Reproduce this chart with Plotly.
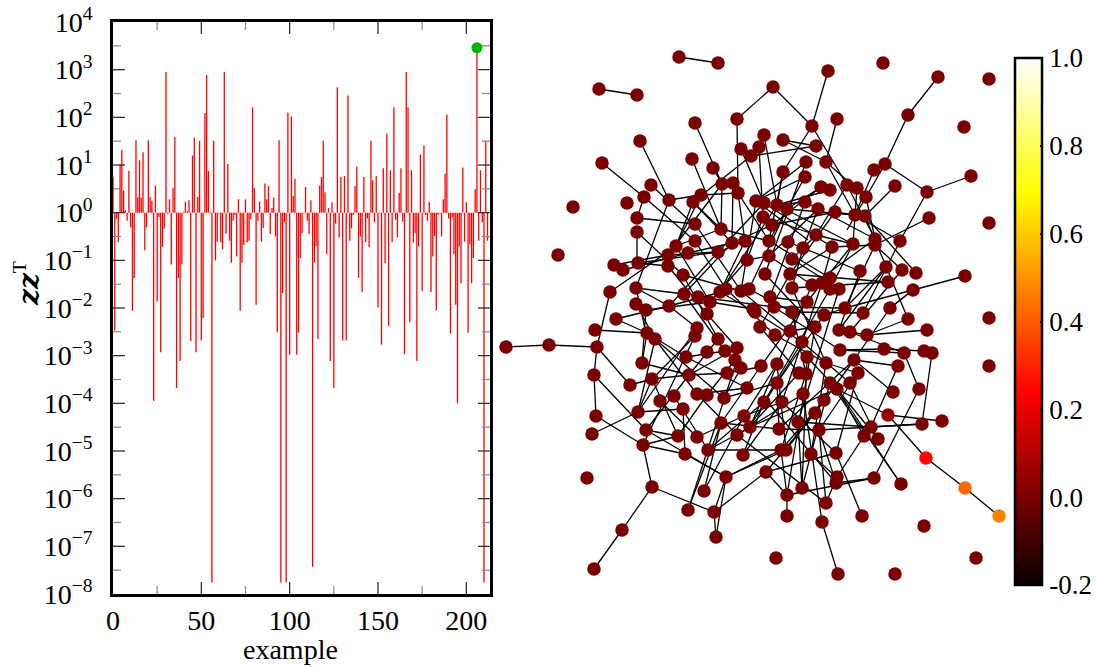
import plotly.graph_objects as go

FONT = "Liberation Serif"

z_log10 = [
 .75,-2.47,-.13,-.62,1.0,1.32,.47,.05,-.17,.88,-.31,-2.06,-1.37,1.52,.32,1.1,.32,1.27,-.79,-.31,
 1.52,.33,.25,-3.95,.57,-1.86,-.09,-2.93,-.72,-.33,2.95,-.03,.28,-1.09,.52,1.59,-3.68,-1.37,-3.11,-1.08,
 .02,.23,.03,.26,-2.69,1.2,1.57,-2.93,.33,1.51,-2.68,-2.21,2.09,2.89,.88,.02,-7.76,1.51,-1.0,-.61,
 -.02,-.62,-.77,2.95,-.44,1.02,-.59,-1.05,-.17,-.05,-.92,.28,-2.06,-1.05,-.68,.28,-.62,-.59,-.14,2.21,
 .52,-1.93,-.17,.23,-.61,-.32,.61,.28,.56,-.45,.1,.32,-.5,-2.51,1.52,-7.76,-1.69,-.2,-7.76,2.1,
 -2.98,2.02,.35,.71,-2.98,-2.52,-.95,-.43,-.02,.54,-.17,-.45,.26,-7.43,-1.05,-.7,-2.65,.57,.75,1.51,
 .43,-.87,.1,-3.11,.22,-3.68,-.23,2.63,-.52,.75,-2.68,.77,-2.68,2.46,-.59,-.33,-.05,.56,.97,-1.37,
 -.5,-1.67,.75,-.62,-.12,-.72,1.51,.68,-.2,.77,-1.99,-.02,-2.77,.93,-1.06,1.66,-2.38,.89,-.62,2.21,
 -.15,-.52,.41,.93,-.19,-2.97,2.95,2.21,-2.3,.89,-.63,-.43,-3.11,-.71,1.22,-1.65,1.41,-.05,-.17,.23,
 -1.67,-.92,-.49,-2.05,-.05,-.02,-.5,.28,.82,2.06,-.12,-2.54,-.1,-.87,-1.93,-4.0,-.71,-1.48,.95,-.61,
 .22,-2.52,-.66,-1.48,-.95,.49,3.46,-.59,.89,-.2,-7.76,1.51,-.59]
highlight_index = 206

y_tick_exponents = [4,3,2,1,0,-1,-2,-3,-4,-5,-6,-7,-8]
x_tick_vals = [0,50,100,150,200]
x_minor_vals = [25,75,125,175]
cbar_tick_vals = [-0.2,0,0.2,0.4,0.6,0.8,1.0]
cbar_tick_text = ["-0.2","0.0","0.2","0.4","0.6","0.8","1.0"]

nodes = [
(679,57),(718,63),(599,89),(637,95),(737,119),(695,123),(773,87),(764,135),(640,141),(741,149),(759,147),(751,156),
(602,163),(692,159),(713,168),(651,185),(722,184),(733,183),(738,193),(644,197),(701,195),(627,203),(669,200),(693,202),
(756,201),(764,203),(573,207),(637,218),(695,224),(763,217),(721,229),(637,232),(695,241),(676,246),(732,243),(745,241),
(769,241),(558,255),(688,253),(718,252),(668,255),(614,265),(623,270),(638,263),(668,266),(747,260),(769,256),(683,275),
(765,274),(636,288),(610,292),(684,294),(698,297),(720,292),(726,289),(741,291),(749,289),(710,302),(636,304),(669,306),
(646,310),(753,309),(770,297),(828,71),(883,63),(938,77),(989,79),(908,115),(812,126),(837,119),(964,127),(783,140),
(816,146),(806,162),(826,162),(885,164),(874,170),(783,172),(971,176),(805,177),(847,185),(857,188),(821,187),(830,190),
(895,186),(927,192),(866,197),(777,205),(787,209),(805,202),(818,209),(835,212),(855,215),(865,216),(929,218),(989,223),
(772,225),(816,235),(875,239),(875,245),(900,241),(788,242),(803,248),(832,247),(853,244),(792,259),(886,267),(902,270),
(916,273),(860,271),(790,274),(965,276),(830,278),(822,283),(812,285),(888,282),(913,290),(792,288),(830,289),(839,289),
(807,302),(774,307),(845,308),(755,312),(792,312),(824,315),(863,313),(890,308),(908,319),(989,318),(927,330),(760,327),
(775,335),(790,331),(815,327),(839,330),(850,332),(867,335),(802,342),(840,350),(884,349),(904,353),(924,351),(932,353),
(989,366),(807,357),(854,360),(761,366),(777,364),(826,363),(898,366),(799,373),(806,374),(858,373),(777,383),(830,383),
(850,383),(837,389),(893,392),(919,389),(803,394),(764,402),(782,402),(824,400),(815,413),(888,415),(798,422),(942,421),
(922,424),(779,429),(750,427),(819,430),(871,427),(864,436),(878,439),(926,458),(781,450),(786,450),(811,454),(836,453),
(766,472),(965,488),(999,516),(837,477),(836,483),(874,478),(901,484),(802,488),(787,495),(826,503),(787,516),(822,522),
(862,516),(924,526),(776,558),(976,558),(838,574),(895,574),(707,314),(616,319),(595,330),(697,328),(695,336),(647,333),
(655,339),(718,339),(597,347),(506,347),(549,345),(707,352),(725,351),(737,348),(686,357),(735,360),(741,368),(642,363),
(594,375),(689,375),(727,373),(652,379),(630,385),(747,388),(697,394),(707,395),(724,398),(674,396),(660,401),(683,409),
(638,412),(596,416),(721,423),(744,416),(646,430),(592,434),(678,436),(697,437),(737,435),(643,445),(708,450),(685,454),
(743,455),(726,477),(587,478),(652,487),(704,491),(688,510),(714,512),(622,530),(716,537),(594,569)]

special_values = {(888,415):0.05,(926,458):0.25,(965,488):0.42,(999,516):0.47}
default_value = 0.0

edges = [
(679,57,718,63),(599,89,637,95),(737,119,773,87),(737,119,738,193),(773,87,812,126),(828,71,812,126),(938,77,908,115),
(908,115,885,164),(885,164,927,192),(971,176,927,192),(927,192,900,241),(929,218,875,245),(895,186,865,216),(885,164,847,230),
(874,170,855,215),(837,119,826,162),(812,126,783,172),(812,126,847,185),(816,146,783,140),(816,146,751,156),(783,140,826,162),
(826,162,866,197),(764,135,777,205),(759,147,763,217),(741,149,764,203),(751,156,693,202),(695,123,722,184),(640,141,669,200),
(602,163,644,197),(692,159,721,229),(651,185,693,224),(644,197,695,241),(669,200,636,288),(644,197,637,218),(637,218,695,224),
(637,232,637,263),(637,232,683,275),(669,200,701,195),(701,195,738,193),(713,168,722,184),(676,246,693,202),(614,265,668,255),
(623,270,688,253),(638,263,718,252),(610,292,676,246),(636,288,684,294),(636,288,646,333),(597,347,549,345),(549,345,506,347),
(597,347,610,292),(595,330,647,333),(597,347,594,375),(594,375,596,416),(597,347,630,385),(630,385,652,379),(594,375,646,430),
(596,416,643,445),(592,434,638,412),(638,412,683,409),(643,445,685,454),(643,445,652,487),(652,487,622,530),(622,530,594,569),
(652,487,714,512),(714,512,716,537),(714,512,726,477),(714,512,766,472),(688,510,721,423),(704,491,721,423),(726,477,781,450),
(726,477,646,430),(685,454,726,477),(708,450,786,450),(647,333,642,363),(655,339,638,412),(646,430,689,375),(655,339,724,398),
(888,415,926,458),(926,458,965,488),(965,488,999,516),(888,415,942,421),(888,415,837,389),(922,424,819,430),(919,389,874,478),
(874,478,787,495),(932,353,922,424),(919,389,904,353),(898,366,871,427),(893,392,854,360),(927,330,867,335),(924,351,884,349),
(904,353,840,350),(901,484,837,389),(878,439,837,389),(864,436,837,477),(836,453,862,516),(836,453,858,373),(838,574,822,522),
(822,522,803,394),(826,503,837,477),(826,503,819,430),(787,516,787,495),(787,495,766,472),(787,495,781,450),(802,488,798,422),
(802,488,811,454),(836,483,766,400),(913,290,965,276),(913,290,845,308),(916,273,865,216),(888,282,792,288),(890,308,913,290),
(693,202,721,229),(693,202,732,243),(701,195,676,246),(722,184,668,255),(738,193,769,241),(738,193,745,241),(733,183,732,243),
(722,184,721,229),(756,201,741,291),(764,203,718,252),(763,217,747,260),(772,225,732,243),(777,205,720,292),(787,209,749,289),
(805,202,770,297),(805,177,769,241),(806,162,765,274),(783,172,777,205),(821,187,787,209),(830,190,777,205),(847,185,816,235),
(857,188,853,244),(866,197,875,239),(847,185,875,239),(855,215,900,241),(865,216,908,319),(835,212,772,225),(818,209,803,248),
(805,202,777,205),(816,235,853,244),(816,235,792,259),(832,247,875,245),(803,248,792,288),(788,242,860,271),(792,259,839,289),
(769,241,830,278),(769,256,812,285),(790,274,888,282),(886,267,845,308),(902,270,875,245),(860,271,839,330),(853,244,830,289),
(832,247,822,283),(875,239,812,285),(900,241,863,313),(913,290,890,308),(908,319,867,335),(890,308,854,360),(863,313,792,312),
(845,308,824,315),(839,330,867,335),(850,332,904,353),(840,350,884,349),(854,360,898,366),(826,363,858,373),(807,357,837,389),
(802,342,850,383),(790,331,815,327),(775,335,826,363),(760,327,799,373),(755,312,802,342),(774,307,840,350),(792,312,806,374),
(824,315,777,383),(839,289,798,422),(830,289,764,402),(822,283,782,402),(812,285,750,427),(807,302,761,366),(792,288,826,363),
(774,307,845,308),(770,297,807,302),(765,274,815,327),(790,274,760,327),(749,289,792,312),(741,291,790,331),(726,289,775,335),
(720,292,755,312),(710,302,753,309),(698,297,774,307),(684,294,725,351),(683,275,718,339),(668,266,707,314),(636,304,655,339),
(646,310,642,363),(669,306,616,319),(669,306,721,292),(707,314,737,348),(697,328,669,306),(695,336,652,379),(718,339,689,375),
(725,351,686,357),(737,348,689,375),(735,360,707,395),(741,368,724,398),(760,367,727,373),(761,366,721,423),(777,364,744,416),
(777,383,724,398),(747,388,697,394),(764,402,708,450),(782,402,743,455),(803,394,737,435),(799,373,750,427),(806,374,781,450),
(824,400,786,450),(815,413,766,472),(819,430,779,429),(798,422,871,427),(779,429,854,360),(750,427,850,383),(811,454,830,383),
(781,450,824,400),(786,450,777,364),(743,455,764,402),(737,435,826,503),(721,423,779,429),(707,395,678,436),(697,394,737,435),
(674,396,708,450),(660,401,697,437),(683,409,685,454),(678,436,652,379),(652,379,689,375),(642,363,689,375),(689,375,727,373),
(686,357,747,388),(697,437,744,416),(708,450,749,428),(749,428,802,342),(744,416,782,402),(782,402,836,453),(819,430,836,483),
(836,483,874,478),(864,436,871,427),(871,427,922,424),(811,454,836,477),(766,472,836,453),(830,383,901,484),(850,383,878,439),
(837,389,864,436),(858,373,819,430),(854,360,815,413),(826,363,811,454),(807,357,802,488),(815,327,787,495),(777,383,779,429),
(668,255,718,252),(668,266,638,263),(688,253,732,243),(718,252,745,241),(747,260,769,256),(732,243,684,294),(721,229,676,246),
(721,229,769,241),(695,224,741,291),(695,241,726,289),(676,246,710,302),(683,275,741,291),(718,252,669,306),(747,260,710,302),
(745,241,720,292),(756,201,808,240),(764,203,832,247),(777,205,853,244),(787,209,855,215),(805,202,875,239),(821,187,772,225),
(805,177,756,201),(806,162,756,201),(783,172,769,241),(847,185,866,197),(826,162,855,215),(816,235,763,217),(818,209,769,256),
(835,212,855,215),(835,212,790,274),(832,247,790,274),(853,244,807,302),(886,267,839,330),(902,270,850,332),(875,245,845,308),
(636,288,669,306),(646,310,710,302),(616,319,647,333),(647,333,686,357),(655,339,697,394),(652,379,638,412),(638,412,697,328),
(646,430,678,436),(678,436,643,445),(643,445,695,336),(688,510,737,360),(704,491,744,416),(716,537,726,477),(726,477,786,450),
]

node_x = [p[0] for p in nodes]
node_y = [p[1] for p in nodes]
node_value = [special_values.get(p, default_value) for p in nodes]

hot = [[0,"#0a0000"],[0.365,"#ff0000"],[0.746,"#ffff00"],[1,"#ffffff"]]

fig = go.Figure()

sx, sy = [], []
for i, e in enumerate(z_log10):
    sx += [i, i, None]
    sy += [1, 10 ** e, None]
fig.add_trace(go.Scatter(x=sx, y=sy, mode="lines", line=dict(color="#ff0000", width=1.3),
                         cliponaxis=False, showlegend=False, hoverinfo="skip", connectgaps=False))
fig.add_trace(go.Scatter(x=[highlight_index], y=[10 ** z_log10[highlight_index]], mode="markers",
                         marker=dict(color="#00b400", size=11), cliponaxis=False, showlegend=False))

ex, ey = [], []
for x1, y1, x2, y2 in edges:
    ex += [x1, x2, None]
    ey += [y1, y2, None]
fig.add_trace(go.Scatter(x=ex, y=ey, xaxis="x2", yaxis="y2", mode="lines",
                         line=dict(color="black", width=1.3), showlegend=False, hoverinfo="skip"))
fig.add_trace(go.Scatter(x=node_x, y=node_y, xaxis="x2", yaxis="y2", mode="markers", showlegend=False,
    marker=dict(size=13.5, color=node_value, cmin=-0.2, cmax=1.0, colorscale=hot,
                colorbar=dict(x=1015/1096, xanchor="left", xref="paper", y=1-58/667, yanchor="top", yref="paper",
                              len=527/667, lenmode="fraction", thickness=27, thicknessmode="pixels",
                              outlinewidth=2.5, outlinecolor="black", xpad=0, ypad=0,
                              tickmode="array", tickvals=cbar_tick_vals, ticktext=cbar_tick_text,
                              ticks="inside", ticklen=3, tickwidth=1.5, tickcolor="black",
                              tickfont=dict(family=FONT, size=27, color="black")))))

W, H = 1096, 667
L, R, T, B = 113, 490, 22, 594
tick_font = dict(family=FONT, size=28, color="black")


def x_ticks(values, length, color):
    out = []
    for v in values:
        out.append(dict(type="line", layer="above", xref="x", yref="y domain", ysizemode="pixel", yanchor=0,
                        x0=v, x1=v, y0=0, y1=length, line=dict(color=color, width=1.2)))
        out.append(dict(type="line", layer="above", xref="x", yref="y domain", ysizemode="pixel", yanchor=1,
                        x0=v, x1=v, y0=0, y1=-length, line=dict(color=color, width=1.2)))
    return out


def y_ticks(values, length, color):
    out = []
    for v in values:
        out.append(dict(type="line", layer="above", yref="y", xref="x domain", xsizemode="pixel", xanchor=0,
                        y0=v, y1=v, x0=0, x1=length, line=dict(color=color, width=1.2)))
        out.append(dict(type="line", layer="above", yref="y", xref="x domain", xsizemode="pixel", xanchor=1,
                        y0=v, y1=v, x0=0, x1=-length, line=dict(color=color, width=1.2)))
    return out


tick_shapes = (x_ticks(x_tick_vals[1:], 12, "#222") + x_ticks(x_minor_vals, 8, "#888")
               + y_ticks([10.0**e for e in y_tick_exponents[1:-1]], 12, "#222")
               + y_ticks([10.0**(e+0.5) for e in y_tick_exponents[1:]], 8, "#888"))

fig.update_layout(
    width=W, height=H, autosize=False, margin=dict(l=0, r=0, t=0, b=0, autoexpand=False),
    paper_bgcolor="white", plot_bgcolor="rgba(0,0,0,0)", showlegend=False,
    font=dict(family=FONT, color="black"),
    shapes=tick_shapes,
    xaxis=dict(domain=[L/W, R/W], range=[0, 213.4], showgrid=False, zeroline=False,
               showline=True, linecolor="black", linewidth=2.6, mirror=True,
               tickmode="array", tickvals=x_tick_vals, ticks="",
               tickfont=tick_font, anchor="y"),
    yaxis=dict(domain=[1-B/H, 1-T/H], type="log", range=[-8, 4], showgrid=False, zeroline=False,
               showline=True, linecolor="black", linewidth=2.6, mirror=True,
               tickmode="array", tickvals=[10.0**e for e in y_tick_exponents],
               ticktext=["10<sup>%s</sup>" % str(e).replace("-", "\u2212") for e in y_tick_exponents],
               ticks="", ticklabelstandoff=12,
               tickfont=tick_font, anchor="x"),
    xaxis2=dict(domain=[495/W, 1010/W], range=[495, 1010], visible=False, anchor="y2"),
    yaxis2=dict(domain=[0, 1], range=[667, 0], visible=False, anchor="x2"),
    annotations=[
        dict(text="example", xref="paper", yref="paper", x=290/W, y=0, xanchor="center", yanchor="bottom",
             showarrow=False, font=dict(family=FONT, size=28, color="black")),
        dict(text='<span style="font-family:DejaVu Serif"><b><i>zz</i></b></span><sup>T</sup>',
             xref="paper", yref="paper", x=27/W, y=1-284/H, xanchor="center", yanchor="middle", textangle=-90,
             showarrow=False, font=dict(family=FONT, size=28, color="black")),
    ],
)
fig.write_html("out.html", config={"displayModeBar": False},
               post_script="document.body.style.margin='0';document.documentElement.style.overflow='hidden';")
